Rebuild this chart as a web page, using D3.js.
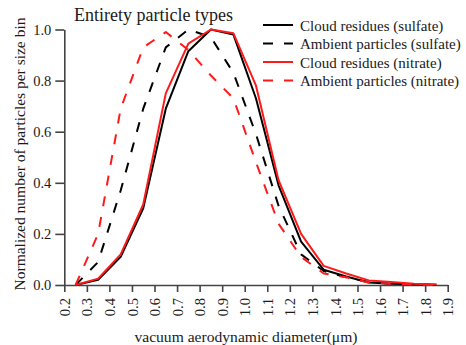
<!DOCTYPE html>
<html>
<head>
<meta charset="utf-8">
<script src="https://cdn.jsdelivr.net/npm/d3@7"></script>
<style>
  html, body { margin: 0; padding: 0; background: #fff; }
  svg { display: block; }
</style>
</head>
<body>
<svg id="chart" width="466" height="345"></svg>
<script>
// Bin centres of the size distribution (µm)
const diameters = [0.25, 0.35, 0.45, 0.55, 0.65, 0.75, 0.85, 0.95, 1.05, 1.15, 1.25, 1.35, 1.45, 1.55, 1.65, 1.75, 1.85];

// Normalized number of particles per size bin
const cloudSulfate   = [0, 0.02, 0.11, 0.30, 0.69, 0.915, 1.0, 0.98, 0.73, 0.39, 0.17, 0.06, 0.033, 0.01, 0.005, 0.003, 0.001];
const ambientSulfate = [0, 0.09, 0.37, 0.69, 0.93, 1.0, 0.97, 0.83, 0.59, 0.31, 0.12, 0.055, 0.03, 0.012, 0.005, 0.002, 0];
const cloudNitrate   = [0, 0.025, 0.12, 0.315, 0.75, 0.945, 1.0, 0.985, 0.78, 0.41, 0.20, 0.075, 0.045, 0.018, 0.012, 0.005, 0.002];
const ambientNitrate = [0, 0.20, 0.69, 0.93, 0.99, 0.92, 0.82, 0.73, 0.48, 0.24, 0.11, 0.045, 0.03, 0.01, 0.005, 0.002, 0];

const xTicks = [0.2, 0.3, 0.4, 0.5, 0.6, 0.7, 0.8, 0.9, 1.0, 1.1, 1.2, 1.3, 1.4, 1.5, 1.6, 1.7, 1.8, 1.9];
const yTicks = [0, 0.2, 0.4, 0.6, 0.8, 1.0];

const seriesNames = ["Cloud residues (sulfate)", "Ambient particles (sulfate)", "Cloud residues (nitrate)", "Ambient particles (nitrate)"];
const seriesValues = [cloudSulfate, ambientSulfate, cloudNitrate, ambientNitrate];
const seriesColors = ["#000000", "#000000", "#ff1a1a", "#ff1a1a"];
const seriesDashed = [false, true, false, true];

const titleText = "Entirety particle types";
const xLabel = "vacuum aerodynamic diameter(\u03bcm)";
const yLabel = "Normalized number of particles per size bin";

const FONT = "Liberation Serif";
const TEXT_COLOR = "#1a1a1a";
const axisColor = "#444";

const svg = d3.select("#chart").attr("font-family", FONT);
const x = d3.scaleLinear().domain([0.2, 1.9]).range([64.3, 447.7]);
const y = d3.scaleLinear().domain([0, 1]).range([285, 29.5]);

// y axis
const gy = svg.append("g")
  .attr("transform", `translate(${x(0.2)},0)`)
  .call(d3.axisLeft(y).tickValues(yTicks).tickFormat(d3.format(".1f")).tickSize(9).tickPadding(4).tickSizeOuter(0))
  .attr("font-family", FONT).attr("font-size", 14.5);
gy.select(".domain").attr("stroke", axisColor).attr("stroke-width", 1.6);
gy.selectAll(".tick line").attr("stroke", axisColor).attr("stroke-width", 1.6);
gy.selectAll(".tick text").attr("fill", TEXT_COLOR).attr("font-family", FONT).attr("font-size", 14.5);

// x axis with vertical tick labels
const gx = svg.append("g")
  .attr("transform", `translate(0,${y(0)})`)
  .call(d3.axisBottom(x).tickValues(xTicks).tickFormat(d3.format(".1f")).tickSize(7).tickSizeOuter(0))
  .attr("font-family", FONT).attr("font-size", 14.5);
gx.select(".domain").attr("stroke", axisColor).attr("stroke-width", 1.6);
gx.selectAll(".tick line").attr("stroke", axisColor).attr("stroke-width", 1.6);
gx.selectAll(".tick text")
  .attr("fill", TEXT_COLOR)
  .attr("font-family", FONT).attr("font-size", 14.5)
  .attr("transform", "rotate(-90)")
  .attr("text-anchor", "end")
  .attr("x", -13).attr("y", 0).attr("dy", "0.35em");

// curves
const line = d3.line().x((d, i) => x(diameters[i])).y(d => y(d));
seriesValues.forEach((vals, k) => {
  svg.append("path")
    .datum(vals)
    .attr("fill", "none")
    .attr("stroke", seriesColors[k])
    .attr("stroke-width", 2)
    .attr("stroke-linejoin", "round")
    .attr("stroke-dasharray", seriesDashed[k] ? "10,11" : null)
    .attr("d", line);
});

// title
svg.append("text")
  .attr("x", 74).attr("y", 21)
  .attr("fill", TEXT_COLOR)
  .attr("font-family", FONT).attr("font-size", 18)
  .text(titleText);

// legend
const legend = svg.append("g");
seriesNames.forEach((name, k) => {
  const ly = 25 + k * 18.5;
  legend.append("line")
    .attr("x1", 263).attr("x2", 293).attr("y1", ly).attr("y2", ly)
    .attr("stroke", seriesColors[k]).attr("stroke-width", 2)
    .attr("stroke-dasharray", seriesDashed[k] ? "10,11" : null);
  legend.append("text")
    .attr("x", 300).attr("y", ly + 5.8)
    .attr("fill", TEXT_COLOR)
    .attr("font-family", FONT).attr("font-size", 15)
    .text(name);
});

// axis titles
svg.append("text")
  .attr("x", 246).attr("y", 342)
  .attr("text-anchor", "middle")
  .attr("fill", TEXT_COLOR)
  .attr("font-family", FONT).attr("font-size", 15.6)
  .text(xLabel);

svg.append("text")
  .attr("transform", "translate(25,154) rotate(-90)")
  .attr("text-anchor", "middle")
  .attr("fill", TEXT_COLOR)
  .attr("font-family", FONT).attr("font-size", 15.5)
  .text(yLabel);
</script>
</body>
</html>
